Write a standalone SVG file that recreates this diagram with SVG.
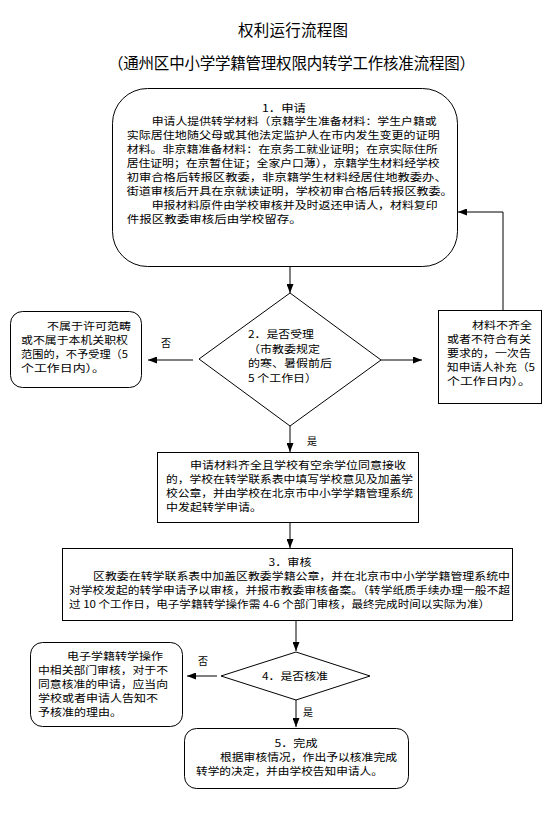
<svg xmlns="http://www.w3.org/2000/svg" width="560" height="829" viewBox="0 0 560 829">
<defs>
<marker id="ah" markerWidth="9" markerHeight="7" refX="9" refY="3.5" orient="auto" markerUnits="userSpaceOnUse">
<path d="M0,0 L9,3.5 L0,7 z" fill="#000"/>
</marker>
</defs>
<style>
.s{fill:#fff;stroke:#000;stroke-width:1}
.t{font-family:"Noto Sans CJK SC","Liberation Sans",sans-serif;font-size:10.6px;fill:#000}
.ti{font-family:"Noto Sans CJK SC","Liberation Serif",serif;font-size:15.5px;fill:#000}
.l{fill:none;stroke:#000;stroke-width:1;marker-end:url(#ah)}
.lab{font-family:"Noto Sans CJK SC","Liberation Serif",serif;font-size:10px;fill:#000}
.c{text-anchor:middle}
</style>
<rect width="560" height="829" fill="#fff"/>
<g id="title">
<text class="ti" x="238" y="36" textLength="110">权利运行流程图</text>
<text class="ti" x="108" y="69" textLength="367">（通州区中小学学籍管理权限内转学工作核准流程图）</text>
</g>
<g id="connectors">
<path class="l" d="M290,267 V293"/>
<path class="l" d="M193,360 H148"/>
<path class="l" d="M381,360 H422"/>
<path class="l" d="M503,310 V212 H458"/>
<path class="l" d="M290,426 V452"/>
<path class="l" d="M290,522 V548"/>
<path class="l" d="M296,620 V651"/>
<path class="l" d="M217,676 H187"/>
<path class="l" d="M296,700 V727"/>
<text class="lab c" x="166" y="347">否</text>
<text class="lab c" x="312" y="445">是</text>
<text class="lab c" x="203" y="665">否</text>
<text class="lab c" x="308" y="716">是</text>
</g>
<g id="n1">
<rect class="s" x="112.5" y="88.5" width="345" height="178" rx="35"/>
<text class="t" lengthAdjust="spacingAndGlyphs"><tspan x="284" y="111.5" text-anchor="middle" textLength="44" lengthAdjust="spacingAndGlyphs">1．申请</tspan><tspan x="151.7" y="125.4" textLength="285" lengthAdjust="spacingAndGlyphs">申请人提供转学材料（京籍学生准备材料：学生户籍或</tspan><tspan x="126.7" y="139.3" textLength="313" lengthAdjust="spacingAndGlyphs">实际居住地随父母或其他法定监护人在市内发生变更的证明</tspan><tspan x="126.7" y="153.2" textLength="311" lengthAdjust="spacingAndGlyphs">材料。非京籍准备材料：在京务工就业证明；在京实际住所</tspan><tspan x="126.7" y="167.1" textLength="313" lengthAdjust="spacingAndGlyphs">居住证明；在京暂住证；全家户口薄），京籍学生材料经学校</tspan><tspan x="126.7" y="181" textLength="320" lengthAdjust="spacingAndGlyphs">初审合格后转报区教委，非京籍学生材料经居住地教委办、</tspan><tspan x="126.7" y="194.9" textLength="326" lengthAdjust="spacingAndGlyphs">街道审核后开具在京就读证明，学校初审合格后转报区教委。</tspan><tspan x="151.7" y="208.8" textLength="286" lengthAdjust="spacingAndGlyphs">申报材料原件由学校审核并及时返还申请人，材料复印</tspan><tspan x="126.7" y="222.7" textLength="175" lengthAdjust="spacingAndGlyphs">件报区教委审核后由学校留存。</tspan></text>
</g>
<g id="n2">
<polygon class="s" points="290,293 381,360 290,426 199,359"/>
<text class="t" lengthAdjust="spacingAndGlyphs"><tspan x="248" y="338" textLength="66" lengthAdjust="spacingAndGlyphs">2．是否受理</tspan><tspan x="248" y="352.5" textLength="72" lengthAdjust="spacingAndGlyphs">（市教委规定</tspan><tspan x="248" y="367" textLength="84" lengthAdjust="spacingAndGlyphs">的寒、暑假前后</tspan><tspan x="248" y="381.5" textLength="69" lengthAdjust="spacingAndGlyphs">5 个工作日）</tspan></text>
</g>
<g id="n2no">
<rect class="s" x="10.5" y="311.5" width="131" height="76" rx="12"/>
<text class="t" lengthAdjust="spacingAndGlyphs"><tspan x="47" y="329.5" textLength="84" lengthAdjust="spacingAndGlyphs">不属于许可范畴</tspan><tspan x="21" y="343.5" textLength="107" lengthAdjust="spacingAndGlyphs">或不属于本机关职权</tspan><tspan x="21" y="357.5" textLength="107" lengthAdjust="spacingAndGlyphs">范围的，不予受理（5</tspan><tspan x="21" y="371.5" textLength="84" lengthAdjust="spacingAndGlyphs">个工作日内）。</tspan></text>
</g>
<g id="n2fix">
<rect class="s" x="438.5" y="310.5" width="103" height="93"/>
<text class="t" lengthAdjust="spacingAndGlyphs"><tspan x="472" y="328.5" textLength="60" lengthAdjust="spacingAndGlyphs">材料不齐全</tspan><tspan x="447" y="342.5" textLength="84" lengthAdjust="spacingAndGlyphs">或者不符合有关</tspan><tspan x="447" y="356.5" textLength="84" lengthAdjust="spacingAndGlyphs">要求的，一次告</tspan><tspan x="447" y="370.5" textLength="88" lengthAdjust="spacingAndGlyphs">知申请人补充（5</tspan><tspan x="447" y="384.5" textLength="84" lengthAdjust="spacingAndGlyphs">个工作日内）。</tspan></text>
</g>
<g id="n2yes">
<rect class="s" x="157.5" y="452.5" width="261" height="70"/>
<text class="t" lengthAdjust="spacingAndGlyphs"><tspan x="190" y="469" textLength="216" lengthAdjust="spacingAndGlyphs">申请材料齐全且学校有空余学位同意接收</tspan><tspan x="166" y="483" textLength="247" lengthAdjust="spacingAndGlyphs">的，学校在转学联系表中填写学校意见及加盖学</tspan><tspan x="166" y="497" textLength="247" lengthAdjust="spacingAndGlyphs">校公章，并由学校在北京市中小学学籍管理系统</tspan><tspan x="166" y="511" textLength="96" lengthAdjust="spacingAndGlyphs">中发起转学申请。</tspan></text>
</g>
<g id="n3">
<rect class="s" x="62.5" y="548.5" width="450" height="72"/>
<text class="t" lengthAdjust="spacingAndGlyphs"><tspan x="290" y="565.5" text-anchor="middle" textLength="43" lengthAdjust="spacingAndGlyphs">3．审核</tspan><tspan x="93" y="579.5" textLength="417" lengthAdjust="spacingAndGlyphs">区教委在转学联系表中加盖区教委学籍公章，并在北京市中小学学籍管理系统中</tspan><tspan x="69" y="593.5" textLength="441" lengthAdjust="spacingAndGlyphs">对学校发起的转学申请予以审核，并报市教委审核备案。（转学纸质手续办理一般不超</tspan><tspan x="69" y="607.5" textLength="421" lengthAdjust="spacingAndGlyphs">过 10 个工作日，电子学籍转学操作需 4-6 个部门审核，最终完成时间以实际为准）</tspan></text>
</g>
<g id="n4">
<polygon class="s" points="296,652 370,676 296,700 221,676"/>
<text class="t c" x="295" y="680" textLength="66" lengthAdjust="spacingAndGlyphs">4．是否核准</text>
</g>
<g id="n4no">
<rect class="s" x="30.5" y="642.5" width="152" height="84" rx="12"/>
<text class="t" lengthAdjust="spacingAndGlyphs"><tspan x="67" y="659.5" textLength="96" lengthAdjust="spacingAndGlyphs">电子学籍转学操作</tspan><tspan x="38" y="674" textLength="130" lengthAdjust="spacingAndGlyphs">中相关部门审核，对于不</tspan><tspan x="38" y="688" textLength="130" lengthAdjust="spacingAndGlyphs">同意核准的申请，应当向</tspan><tspan x="38" y="702" textLength="120" lengthAdjust="spacingAndGlyphs">学校或者申请人告知不</tspan><tspan x="38" y="716" textLength="84" lengthAdjust="spacingAndGlyphs">予核准的理由。</tspan></text>
</g>
<g id="n5">
<rect class="s" x="184.5" y="728.5" width="224" height="60" rx="12"/>
<text class="t" lengthAdjust="spacingAndGlyphs"><tspan x="296" y="746.5" text-anchor="middle" textLength="43" lengthAdjust="spacingAndGlyphs">5．完成</tspan><tspan x="220" y="760.5" textLength="177" lengthAdjust="spacingAndGlyphs">根据审核情况，作出予以核准完成</tspan><tspan x="196" y="774.5" textLength="187" lengthAdjust="spacingAndGlyphs">转学的决定，并由学校告知申请人。</tspan></text>
</g>
</svg>
